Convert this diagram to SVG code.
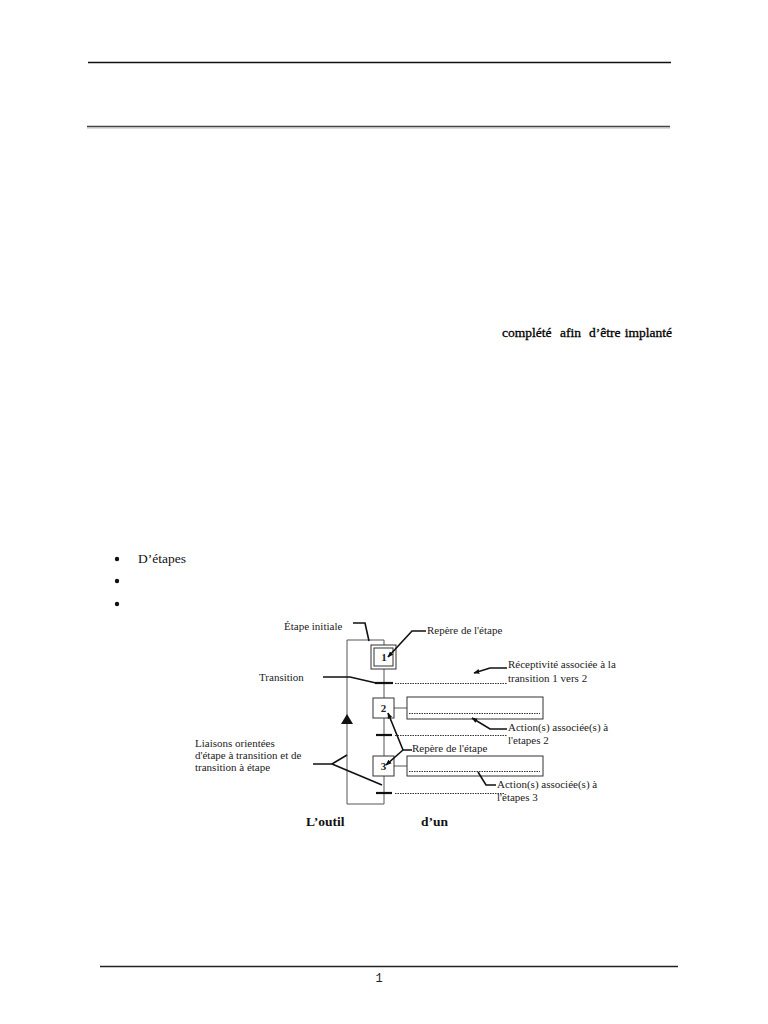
<svg xmlns="http://www.w3.org/2000/svg" width="768" height="1024" viewBox="0 0 768 1024">
<style>
.t{font-family:"Liberation Serif",serif;font-size:13.5px;fill:#111}
.w{font-family:"Liberation Serif",serif;font-size:13.5px;fill:#000;stroke:#000;stroke-width:0.3}
.s{font-family:"Liberation Serif",serif;font-size:11px;fill:#222}
.b{font-family:"Liberation Serif",serif;font-size:13.5px;font-weight:bold;fill:#111}
.g{stroke:#555;stroke-width:1;fill:none}
.box{fill:#fff;stroke:#333;stroke-width:1}
.dot{stroke:#333;stroke-width:1.2;stroke-dasharray:1.5 1;fill:none}
.ld{stroke:#111;stroke-width:1.6;fill:none}
.tr{stroke:#111;stroke-width:2.2}
</style>
<defs>
<marker id="ah" viewBox="0 0 10 10" refX="9" refY="5" markerWidth="6" markerHeight="6" orient="auto-start-reverse" markerUnits="userSpaceOnUse">
<path d="M0,1 L10,5 L0,9 z" fill="#111"/>
</marker>
</defs>
<rect width="768" height="1024" fill="#fff"/>
<g id="page">
<line x1="88" y1="62.5" x2="671" y2="62.5" stroke="#111" stroke-width="1.5"/>
<line x1="87" y1="126.5" x2="670" y2="126.5" stroke="#444" stroke-width="1.5"/>
<line x1="87" y1="128" x2="670" y2="128" stroke="#aaa" stroke-width="0.8"/>
<line x1="100" y1="966.5" x2="678" y2="966.5" stroke="#222" stroke-width="1.5"/>
<text x="379" y="982" font-family="Liberation Mono,monospace" font-size="12" fill="#222" text-anchor="middle">1</text>
<text class="w" x="502" y="337">complété</text>
<text class="w" x="560" y="337">afin</text>
<text class="w" x="589" y="337">d’être</text>
<text class="w" x="672" y="337" text-anchor="end">implanté</text>
<circle cx="117" cy="559" r="2.2" fill="#111"/>
<circle cx="117" cy="581" r="2.2" fill="#111"/>
<circle cx="117" cy="604" r="2.2" fill="#111"/>
<text class="t" x="138" y="563">D’étapes</text>
<text class="b" x="306" y="826">L’outil</text>
<text class="b" x="421" y="826">d’un</text>
</g>
<g id="connectors">
<line class="g" x1="384" y1="640" x2="384" y2="804"/>
<polyline class="g" points="384,640 347,640 347,804 384,804"/>
<path d="M341,724 L347,714 L353,724 z" fill="#111"/>
<line class="g" x1="394" y1="708" x2="407" y2="708"/>
<line class="g" x1="394" y1="766" x2="407" y2="766"/>
<line class="tr" x1="375" y1="683" x2="393" y2="683"/>
<line class="tr" x1="376" y1="735" x2="392" y2="735"/>
<line class="tr" x1="376" y1="793" x2="392" y2="793"/>
<line class="dot" x1="395" y1="683.5" x2="507" y2="683.5"/>
<line class="dot" x1="395" y1="735.5" x2="507" y2="735.5"/>
<line class="dot" x1="395" y1="793.5" x2="505" y2="793.5"/>
</g>
<g id="step1">
<rect class="box" x="371" y="645" width="25" height="24"/>
<rect class="box" x="374" y="648" width="19" height="18"/>
<text class="s" x="384" y="661" text-anchor="middle" font-weight="bold">1</text>
</g>
<g id="step2">
<rect class="box" x="373" y="698" width="21" height="20"/>
<text class="s" x="383.5" y="712" text-anchor="middle" font-weight="bold">2</text>
</g>
<g id="step3">
<rect class="box" x="373" y="756" width="21" height="20"/>
<text class="s" x="383.5" y="770" text-anchor="middle" font-weight="bold">3</text>
</g>
<g id="action2">
<rect class="box" x="407" y="697" width="136" height="22"/>
<line class="dot" x1="409" y1="713.5" x2="540" y2="713.5"/>
</g>
<g id="action3">
<rect class="box" x="407" y="756" width="136" height="20"/>
<line class="dot" x1="409" y1="771.5" x2="540" y2="771.5"/>
</g>
<g id="labels">
<text class="s" x="284" y="630">Étape initiale</text>
<polyline class="ld" points="353,623 365,623 369,641"/>
<text class="s" x="427" y="634">Repère de l'étape</text>
<polyline class="ld" points="426,631 412,631 388,657" marker-end="url(#ah)"/>
<text class="s" x="259" y="681">Transition</text>
<polyline class="ld" points="323,677 350,677 376,683"/>
<text class="s" x="508" y="668">Réceptivité associée à la</text>
<text class="s" x="508" y="682">transition 1 vers 2</text>
<polyline class="ld" points="507,668 490,668 474,673" marker-end="url(#ah)"/>
<text class="s" x="508" y="731">Action(s) associée(s) à</text>
<text class="s" x="508" y="744">l'etapes 2</text>
<polyline class="ld" points="507,729 490,729 472,718" marker-end="url(#ah)"/>
<text class="s" x="412" y="752">Repère de l'étape</text>
<polyline class="ld" points="412,750 403,750 388,713" marker-end="url(#ah)"/>
<polyline class="ld" points="403,750 386,765" marker-end="url(#ah)"/>
<text class="s" x="497" y="788">Action(s) associée(s) à</text>
<text class="s" x="497" y="801">l'étapes 3</text>
<polyline class="ld" points="496,785 486,785 478,772"/>
<text class="s" x="195" y="747">Liaisons orientées</text>
<text class="s" x="195" y="759">d'étape à transition et de</text>
<text class="s" x="195" y="771">transition à étape</text>
<polyline class="ld" points="313,764 332,764 347,755"/>
<polyline class="ld" points="332,764 382,785"/>
</g>
</svg>
